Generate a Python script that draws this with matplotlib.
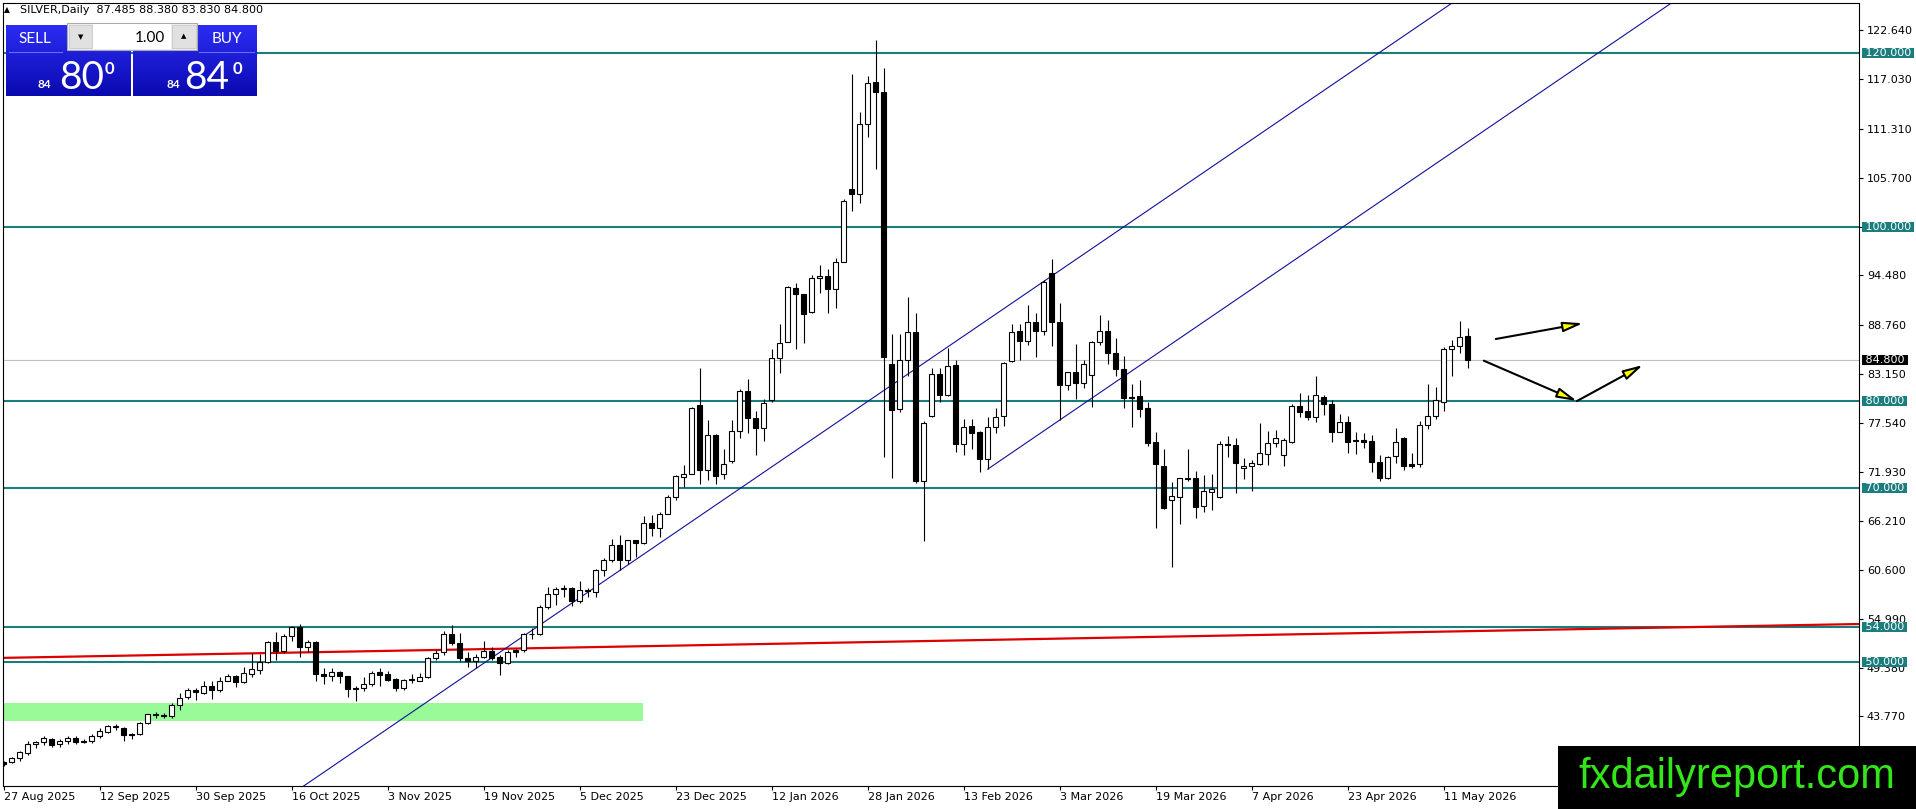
import numpy as np
import matplotlib.pyplot as plt
from matplotlib.patches import Rectangle
from matplotlib.colors import LinearSegmentedColormap

# ---- chart data (one daily bar per entry) ----
date_labels = ['27 Aug 2025', '12 Sep 2025', '30 Sep 2025', '16 Oct 2025', '3 Nov 2025',
               '19 Nov 2025', '5 Dec 2025', '23 Dec 2025', '12 Jan 2026', '28 Jan 2026',
               '13 Feb 2026', '3 Mar 2026', '19 Mar 2026', '7 Apr 2026', '23 Apr 2026',
               '11 May 2026']

opens = [38.5, 38.5, 39.0, 39.6, 40.6, 40.8, 41.2, 40.6, 40.9, 41.3,
         40.8, 41.0, 41.5, 42.0, 42.65, 42.5, 41.75, 41.7, 43.0, 44.0,
         43.9, 43.8, 45.1, 46.0, 46.8, 46.5, 47.3, 46.8, 47.9, 48.4,
         47.7, 48.7, 49.1, 50.0, 52.3, 51.3, 53.0, 54.1, 51.8, 52.3,
         48.7, 48.4, 48.9, 48.4, 47.05, 47.0, 47.5, 48.9, 48.7, 48.1,
         47.0, 47.95, 47.9, 48.3, 50.5, 51.2, 53.2, 52.2, 50.5, 50.1,
         50.6, 51.3, 50.6, 49.9, 51.4, 51.4, 53.3, 53.3, 56.3, 57.9,
         58.45, 58.5, 57.0, 58.3, 58.1, 60.6, 61.8, 63.5, 61.8, 64.0,
         63.7, 66.0, 65.4, 67.1, 69.0, 71.3, 71.7, 79.6, 72.1, 76.1,
         71.6, 73.1, 76.6, 81.2, 78.05, 76.9, 80.1, 85.0, 86.8, 93.0,
         92.3, 90.3, 94.2, 94.4, 92.9, 96.0, 104.4, 103.8, 111.9, 116.7,
         115.5, 84.3, 79.1, 84.8, 88.0, 70.8, 78.3, 83.1, 80.7, 84.2,
         75.1, 77.2, 76.5, 73.4, 77.0, 78.3, 84.6, 88.05, 86.9, 89.1,
         88.05, 94.8, 89.15, 81.9, 83.4, 82.1, 83.0, 86.85, 88.1, 85.6,
         83.7, 80.5, 80.6, 79.2, 75.3, 72.6, 68.7, 69.0, 71.05, 71.15,
         68.0, 69.6, 69.0, 75.1, 75.0, 72.3, 72.6, 72.8, 73.95, 75.25,
         73.8, 75.35, 79.5, 78.9, 78.2, 80.45, 79.7, 76.5, 77.6, 75.5,
         75.6, 75.4, 73.0, 71.2, 73.7, 75.75, 72.75, 72.75, 77.3, 78.3,
         79.96, 86.0, 86.4, 87.485]
highs = [38.7, 39.1, 39.8, 40.9, 40.9, 41.5, 41.3, 41.2, 41.5, 41.5,
         41.2, 41.7, 42.4, 42.8, 42.9, 42.6, 41.9, 43.1, 44.1, 44.3,
         44.2, 45.3, 46.5, 47.1, 47.1, 47.8, 47.9, 48.3, 48.6, 48.5,
         49.5, 51.1, 51.0, 52.4, 53.5, 53.3, 54.2, 54.4, 52.6, 52.4,
         49.3, 49.3, 49.0, 48.4, 47.3, 48.3, 49.0, 49.3, 49.0, 48.2,
         48.1, 48.7, 48.8, 50.6, 51.4, 53.6, 54.3, 53.4, 51.2, 51.0,
         52.4, 51.8, 50.8, 51.4, 51.5, 53.4, 53.9, 56.6, 58.7, 58.7,
         58.9, 58.6, 59.3, 58.5, 60.7, 62.0, 64.2, 64.6, 64.1, 64.1,
         66.8, 66.9, 67.3, 69.2, 71.5, 72.7, 79.3, 83.8, 77.9, 76.2,
         74.5, 77.8, 81.4, 82.6, 78.9, 80.3, 86.0, 88.9, 93.3, 93.6,
         92.3, 94.5, 95.7, 95.2, 96.5, 103.2, 117.6, 113.3, 117.4, 121.5,
         118.3, 87.7, 87.7, 92.0, 90.1, 77.75, 83.8, 83.8, 86.1, 84.8,
         78.0, 78.0, 76.6, 78.2, 79.2, 84.5, 88.9, 88.9, 91.1, 90.2,
         94.0, 96.3, 91.25, 83.4, 86.6, 84.8, 86.9, 89.9, 89.3, 87.3,
         85.2, 82.0, 82.45, 79.95, 76.5, 74.5, 70.7, 71.2, 74.5, 72.0,
         71.5, 71.6, 75.4, 76.0, 75.8, 73.5, 73.2, 77.5, 76.6, 76.7,
         75.8, 79.7, 80.9, 80.7, 82.9, 80.7, 80.1, 78.5, 78.3, 76.5,
         76.4, 76.1, 73.8, 73.7, 76.9, 75.85, 74.0, 77.7, 81.95, 81.6,
         86.2, 87.1, 89.2, 88.38]
lows = [38.1, 38.4, 38.6, 39.3, 40.1, 40.5, 40.3, 40.3, 40.6, 40.6,
        40.7, 40.7, 41.3, 41.9, 42.2, 41.0, 41.2, 41.6, 42.9, 43.6,
        43.6, 43.6, 44.5, 45.8, 45.7, 46.4, 45.8, 46.6, 47.8, 47.2,
        47.6, 48.3, 48.7, 49.9, 50.3, 51.1, 52.4, 50.6, 51.2, 47.8,
        47.5, 47.8, 47.6, 46.0, 45.5, 46.7, 47.3, 47.3, 47.8, 46.7,
        46.8, 47.6, 47.8, 48.2, 50.3, 50.8, 52.0, 50.2, 49.5, 49.3,
        50.5, 50.3, 48.5, 49.8, 50.6, 51.2, 52.7, 53.1, 56.1, 56.6,
        57.5, 56.5, 56.8, 57.5, 57.5, 59.9, 61.5, 60.6, 61.3, 62.1,
        63.6, 64.5, 64.4, 67.0, 68.7, 70.2, 71.6, 70.5, 71.0, 70.5,
        71.1, 72.9, 75.8, 76.3, 73.8, 75.4, 79.9, 83.3, 86.8, 86.0,
        86.7, 90.2, 92.4, 90.2, 90.7, 96.0, 101.9, 102.8, 110.4, 106.7,
        73.6, 71.2, 78.8, 82.9, 70.6, 63.9, 78.2, 79.9, 80.6, 74.2,
        73.8, 74.5, 71.9, 72.2, 76.3, 77.2, 84.5, 84.8, 86.5, 85.1,
        87.6, 86.3, 77.8, 81.3, 80.3, 81.5, 79.4, 86.5, 84.3, 82.9,
        79.2, 77.0, 78.2, 74.9, 65.4, 67.6, 60.9, 65.9, 70.8, 66.6,
        67.3, 67.5, 68.9, 73.6, 69.5, 71.1, 69.7, 72.7, 72.7, 74.7,
        72.6, 75.2, 78.2, 77.85, 77.6, 78.4, 75.3, 76.5, 74.1, 73.9,
        74.6, 71.9, 70.8, 71.1, 72.9, 72.1, 72.3, 72.5, 76.8, 78.0,
        78.9, 82.9, 85.5, 83.83]
closes = [38.3, 39.0, 39.7, 40.6, 40.8, 41.3, 40.5, 41.0, 41.3, 40.8,
          41.0, 41.5, 42.1, 42.7, 42.55, 41.6, 41.65, 43.0, 44.0, 43.9,
          43.85, 45.1, 45.9, 46.8, 46.6, 47.3, 46.8, 47.9, 48.4, 47.7,
          48.8, 49.2, 50.0, 52.3, 51.3, 53.0, 54.1, 51.7, 52.3, 48.7,
          48.4, 48.9, 48.4, 46.9, 46.9, 47.5, 48.8, 48.5, 48.0, 47.1,
          48.0, 48.05, 48.3, 50.5, 51.1, 53.2, 52.2, 50.5, 50.1, 50.6,
          51.3, 50.5, 49.9, 51.2, 51.2, 53.3, 53.2, 56.4, 57.9, 58.4,
          58.5, 57.0, 58.3, 58.2, 60.6, 61.8, 63.5, 61.8, 64.0, 63.7,
          66.0, 65.4, 67.1, 69.0, 71.4, 71.7, 79.2, 72.1, 76.1, 71.4,
          72.8, 76.6, 81.2, 78.05, 76.9, 79.8, 85.0, 86.7, 93.1, 92.3,
          90.0, 94.2, 94.4, 92.9, 96.0, 103.0, 103.8, 111.9, 116.6, 115.5,
          85.1, 79.0, 84.8, 88.0, 70.8, 77.5, 83.1, 80.7, 84.0, 75.1,
          77.1, 76.4, 73.4, 77.0, 78.2, 84.4, 88.0, 86.9, 89.1, 88.05,
          93.7, 89.15, 81.9, 83.4, 82.1, 84.3, 86.85, 88.1, 85.6, 83.7,
          80.35, 80.4, 79.15, 75.25, 72.75, 67.7, 69.1, 71.15, 71.15, 67.9,
          69.7, 69.9, 75.1, 75.0, 72.9, 72.6, 72.95, 74.05, 75.2, 75.75,
          75.55, 79.5, 78.8, 78.2, 80.7, 79.7, 76.5, 77.6, 75.3, 75.4,
          75.35, 73.0, 71.2, 73.6, 75.3, 72.6, 72.6, 77.3, 78.3, 80.2,
          86.0, 86.4, 87.35, 84.8]

levels = [120, 100, 80, 70, 54, 50]
last_price = 84.8
price_ticks = [122.64, 117.03, 111.31, 105.70, 100.09, 94.48, 88.76, 83.15,
               77.54, 71.93, 66.21, 60.60, 54.99, 49.38, 43.77, 38.16]
hidden_ticks = [100.09]   # label sits fully under the 100.000 level box

# drawn objects (bar index, price)
red_line_x, red_line_y = [-0.5, 232.0], [50.5, 54.4]
channel_top = [(55.4, 47.0), (142.0, 101.3)]
channel_low_start = (123.0, 72.2)
zone_x, zone_y = (-0.5, 79.9), (43.3, 45.35)
arrows = [((186.5, 87.16), (197.4, 88.97)),
          ((185.0, 84.67), (196.65, 80.03)),
          ((196.65, 80.03), (204.9, 84.17))]

teal = '#1b7d7d'
plt.rcParams['font.family'] = 'DejaVu Sans'

W, H = 1916, 809
fig = plt.figure(figsize=(W / 100, H / 100), dpi=100)
ax = fig.add_axes([2.7 / W, 23 / H, (1859 - 2.7) / W, (786 - 2.5) / H])
ax.set_xlim(-0.11, 231.9)
ax.set_ylim(35.78, 125.84)

# support zone
ax.add_patch(Rectangle((zone_x[0], zone_y[0]), zone_x[1] - zone_x[0], zone_y[1] - zone_y[0],
                       facecolor='#98fb98', edgecolor='none', zorder=0.5))

# horizontal levels + bid line
for lv in levels:
    ax.axhline(lv, color=teal, lw=1.5, zorder=1)
ax.axhline(last_price, color='#c0c0c0', lw=0.8, zorder=1)

# red trend line
ax.plot(red_line_x, red_line_y, color='#dd0000', lw=1.6, zorder=1.2)

# blue channel
(x1, y1), (x2, y2) = channel_top
slope = (y2 - y1) / (x2 - x1)
ax.axline(channel_top[0], channel_top[1], color='#10109a', lw=0.8, zorder=1.3)
cx, cy = channel_low_start
ax.plot([cx, 215], [cy, cy + slope * (215 - cx)], color='#10109a', lw=0.8, zorder=1.3)

# candles
o, h, l, c = map(np.array, (opens, highs, lows, closes))
idx = np.arange(len(o))
ax.vlines(idx, l, h, color='black', lw=0.8, zorder=3)
ax.bar(idx, np.abs(c - o), bottom=np.minimum(o, c), width=0.6,
       color=np.where(c >= o, 'white', 'black'), edgecolor='black', lw=0.8, zorder=4)

# arrows
for start, end in arrows:
    ax.annotate('', xy=end, xytext=start,
                arrowprops=dict(arrowstyle='-|>,head_length=1.2,head_width=0.3',
                                facecolor='yellow', edgecolor='black', lw=1.5,
                                shrinkA=0, shrinkB=0), zorder=6)

# axes / ticks
for s in ax.spines.values():
    s.set_color('black')
    s.set_linewidth(0.8)
ax.set_xticks(range(0, 12 * len(date_labels), 12))
ax.set_xticklabels(date_labels, ha='left')
ax.tick_params(axis='x', direction='out', length=3, pad=1.5, labelsize=8)
ax.yaxis.tick_right()
ax.set_yticks(price_ticks)
ax.set_yticklabels(['' if v in hidden_ticks else f'{v:.3f}' for v in price_ticks])
ax.tick_params(axis='y', direction='out', length=3, pad=2.7, labelsize=8)

for lv in levels:
    ax.annotate(f' {lv:.3f} ', xy=(1, lv), xycoords=('axes fraction', 'data'),
                xytext=(1.8, 0), textcoords='offset points', ha='left', va='center',
                fontsize=8, color='white', annotation_clip=False, zorder=7,
                bbox=dict(boxstyle='square,pad=0', fc=teal, ec='none'))
ax.annotate(f' {last_price:.3f} ', xy=(1, last_price), xycoords=('axes fraction', 'data'),
            xytext=(1.8, 0), textcoords='offset points', ha='left', va='center',
            fontsize=8, color='white', annotation_clip=False, zorder=7,
            bbox=dict(boxstyle='square,pad=0', fc='black', ec='none'))

# ---- overlay in pixel coords: header, trade panel, watermark ----
ov = fig.add_axes([0, 0, 1, 1], zorder=10)
ov.patch.set_alpha(0)

ov.text(4, 9.5, '\u25b2', fontsize=5.5, ha='left', va='center')
ov.text(20.5, 9.5, 'SILVER,Daily  87.485 88.380 83.830 84.800', fontsize=8,
        ha='left', va='center')

cmap = LinearSegmentedColormap.from_list('panel', ['#2c2cf4', '#0a0ab0'])
grad = np.linspace(0, 1, 64).reshape(-1, 1)
for left, right in [(6, 131), (133, 257)]:
    ov.imshow(grad, cmap=cmap, extent=(left, right, 96.3, 25.3), aspect='auto', zorder=1)
for left, right in [(9, 62), (199, 254)]:
    ov.plot([left, right], [51.5, 51.5], color='#6a6aff', lw=0.8, zorder=2)

ov.add_patch(Rectangle((67, 23), 130, 27, fc='#f0f0f0', ec='#a9a9a9', lw=0.8, zorder=2))
ov.add_patch(Rectangle((69, 25), 23, 23, fc='#e1e1e1', ec='#c8c8c8', lw=0.6, zorder=3))
ov.add_patch(Rectangle((93, 24), 78, 25, fc='white', ec='none', zorder=3))
ov.add_patch(Rectangle((172, 25), 24, 23, fc='#e1e1e1', ec='#c8c8c8', lw=0.6, zorder=3))
ov.text(80.5, 37, '\u25bc', fontsize=5, ha='center', va='center', zorder=4)
ov.text(184, 36, '\u25b2', fontsize=5, ha='center', va='center', zorder=4)
ov.text(165, 37.5, '1.00', fontsize=11, family='Lato', ha='right', va='center', zorder=4)

ov.text(35, 38.5, 'SELL', fontsize=11, family='Lato', color='white', ha='center', va='center', zorder=4)
ov.text(226.5, 38.5, 'BUY', fontsize=11, family='Lato', color='white', ha='center', va='center', zorder=4)

for x_small, x_big, x_sup, big in [(38, 59, 105, '80'), (167, 184, 233, '84')]:
    ov.text(x_small, 87.5, '84', fontsize=8.5, family='Lato', weight='bold', color='white',
            ha='left', va='baseline', zorder=4)
    ov.text(x_big, 88.5, big, fontsize=28, family='Lato', color='white',
            ha='left', va='baseline', zorder=4)
    ov.text(x_sup, 73.5, '0', fontsize=12, family='Lato', weight='bold', color='white',
            ha='left', va='baseline', zorder=4)

ov.add_patch(Rectangle((1558, 746), 358, 63, fc='black', ec='none', zorder=5))
ov.text(1737, 788, 'fxdailyreport.com', fontsize=30, family='Liberation Sans',
        color='#33e61a', ha='center', va='baseline', zorder=6)

ov.set_xlim(0, W)
ov.set_ylim(H, 0)
ov.axis('off')

fig.savefig('out.png', dpi=100, facecolor='white')
